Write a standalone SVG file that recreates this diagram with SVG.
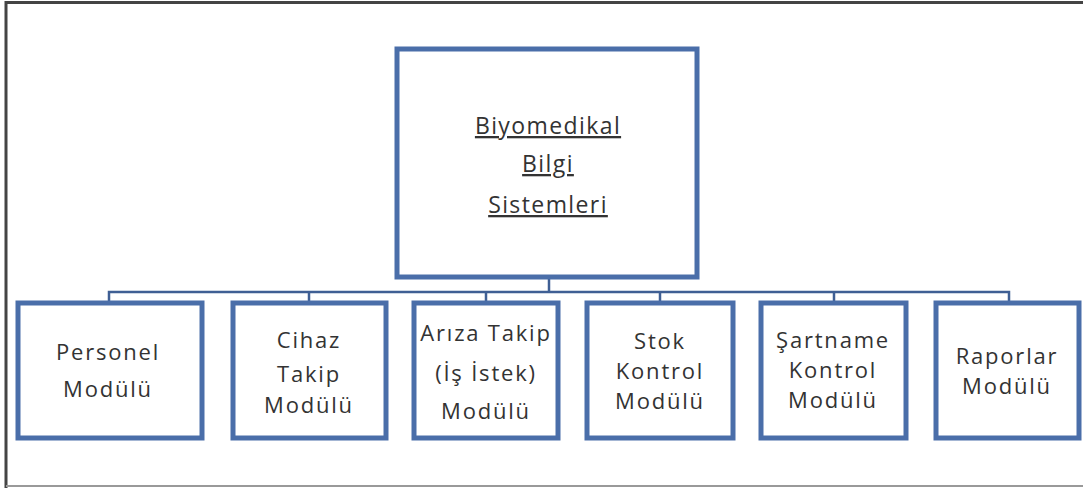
<svg xmlns="http://www.w3.org/2000/svg" width="1083" height="488" viewBox="0 0 1083 488">
  <style>
    .frame { fill: none; stroke: #444; stroke-width: 3; }
    .frame-bottom { stroke: #999; stroke-width: 2; }
    .box { fill: #ffffff; stroke: #4a6ea9; stroke-width: 5; }
    .link { fill: none; stroke: #3f5f94; stroke-width: 2.5; }
    .lbl { font-family: "Open Sans", "Liberation Sans", sans-serif; font-size: 22px; fill: #333; text-anchor: middle; letter-spacing: 1.8px; }
    .title { font-size: 23px; text-decoration: underline; letter-spacing: 1.4px; }
  </style>
  <rect width="1083" height="488" fill="#ffffff"/>
  <!-- outer frame -->
  <path class="frame" d="M6,488 V2.5 H1083"/>
  <line class="frame-bottom" x1="6" y1="486" x2="1083" y2="486"/>

  <!-- connectors -->
  <g id="connectors">
    <path class="link" d="M549,278 V292"/>
    <path class="link" d="M109,302 V292 H1009 V302"/>
    <path class="link" d="M309,292 V302"/>
    <path class="link" d="M486,292 V302"/>
    <path class="link" d="M660,292 V302"/>
    <path class="link" d="M834,292 V302"/>
  </g>

  <g id="root">
    <rect class="box" x="397" y="49" width="300" height="228"/>
    <text class="lbl title" x="548" y="134">Biyomedikal</text>
    <text class="lbl title" x="548" y="172">Bilgi</text>
    <text class="lbl title" x="548" y="213">Sistemleri</text>
  </g>

  <g id="personel">
    <rect class="box" x="18" y="303" width="184" height="135"/>
    <text class="lbl" x="108" y="360">Personel</text>
    <text class="lbl" x="108" y="397">Modülü</text>
  </g>

  <g id="cihaz">
    <rect class="box" x="233" y="303" width="153" height="135"/>
    <text class="lbl" x="309" y="348">Cihaz</text>
    <text class="lbl" x="309" y="382">Takip</text>
    <text class="lbl" x="309" y="413">Modülü</text>
  </g>

  <g id="ariza">
    <rect class="box" x="414" y="303" width="144" height="135"/>
    <text class="lbl" x="486" y="341" letter-spacing="1">Arıza Takip</text>
    <text class="lbl" x="486" y="381">(İş İstek)</text>
    <text class="lbl" x="486" y="419">Modülü</text>
  </g>

  <g id="stok">
    <rect class="box" x="587" y="303" width="146" height="135"/>
    <text class="lbl" x="660" y="349">Stok</text>
    <text class="lbl" x="660" y="379">Kontrol</text>
    <text class="lbl" x="660" y="409">Modülü</text>
  </g>

  <g id="sartname">
    <rect class="box" x="761" y="303" width="145" height="135"/>
    <text class="lbl" x="833" y="348">Şartname</text>
    <text class="lbl" x="833" y="378">Kontrol</text>
    <text class="lbl" x="833" y="408">Modülü</text>
  </g>

  <g id="raporlar">
    <rect class="box" x="936" y="303" width="143" height="135"/>
    <text class="lbl" x="1007" y="364">Raporlar</text>
    <text class="lbl" x="1007" y="394">Modülü</text>
  </g>
</svg>
